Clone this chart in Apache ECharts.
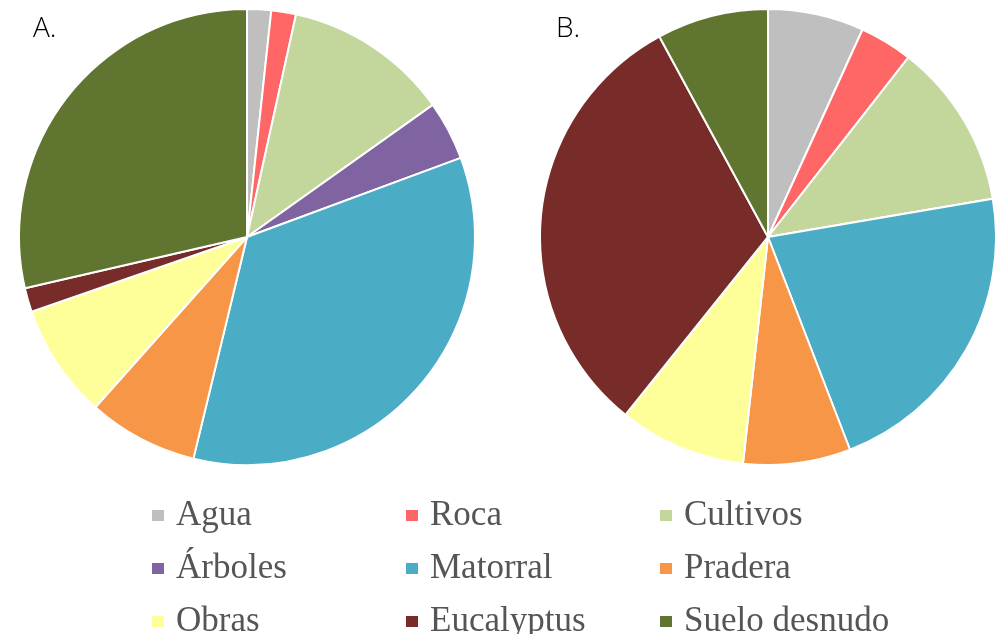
<!DOCTYPE html>
<html>
<head>
<meta charset="utf-8">
<script src="https://cdn.jsdelivr.net/npm/echarts@6/dist/echarts.min.js"></script>
<style>html,body{margin:0;padding:0;background:#fff;}#c{width:995px;height:634px;}</style>
</head>
<body>
<div id="c"></div>
<script>
const categories = ['Agua','Roca','Cultivos','Árboles','Matorral','Pradera','Obras','Eucalyptus','Suelo desnudo'];
const valuesA = [1.7, 1.75, 11.7, 4.2, 34.4, 7.8, 8.1, 1.7, 28.6];
const valuesB = [6.8, 3.75, 11.75, 0, 21.8, 7.6, 9.0, 31.3, 7.9];
const colors = ['#BFBFBF','#FF6666','#C3D69B','#8064A2','#4BACC6','#F79646','#FFFF99','#772C2A','#607530'];
const panelLabels = ['A.', 'B.'];

function buildData(vals) {
  return categories.map((n, i) => ({ name: n, value: vals[i], itemStyle: { color: colors[i] } }));
}

const chart = echarts.init(document.getElementById('c'));
chart.setOption({
  animation: false,
  backgroundColor: '#fff',
  graphic: [
    { type: 'text', left: 33, top: 15, style: { text: panelLabels[0], font: '300 28px "Open Sans"', fill: '#000' } },
    { type: 'text', left: 556, top: 15, style: { text: panelLabels[1], font: '300 28px "Open Sans"', fill: '#000' } }
  ],
  legend: {
    data: categories,
    left: 150,
    top: 489,
    padding: 0,
    width: 800,
    itemGap: 0,
    itemWidth: 14,
    itemHeight: 13,
    icon: 'rect',
    selectedMode: false,
    textStyle: {
      fontFamily: '"Liberation Serif", "Times New Roman", serif',
      fontSize: 35,
      color: '#555555',
      width: 228,
      lineHeight: 53,
      padding: [0, 0, 0, 6]
    }
  },
  series: [
    {
      type: 'pie',
      center: [247, 237],
      radius: 228,
      startAngle: 90,
      clockwise: true,
      label: { show: false },
      labelLine: { show: false },
      itemStyle: { borderColor: '#fff', borderWidth: 2 },
      data: buildData(valuesA)
    },
    {
      type: 'pie',
      center: [768, 237],
      radius: 228,
      startAngle: 90,
      clockwise: true,
      label: { show: false },
      labelLine: { show: false },
      itemStyle: { borderColor: '#fff', borderWidth: 2 },
      data: buildData(valuesB)
    }
  ]
});
</script>
</body>
</html>
